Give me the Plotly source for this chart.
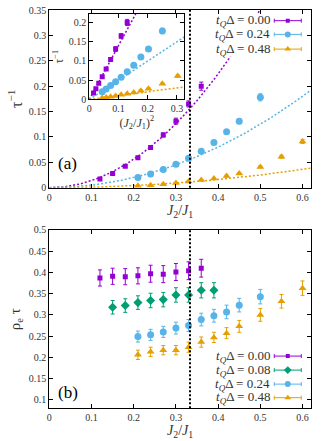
"""
Scattering rate tau^-1 vs J2/J1 (top, with inset vs (J2/J1)^2)
and rho_e*tau vs J2/J1 (bottom), gnuplot-like styling.
"""

import numpy as np
import plotly.graph_objects as go

# =====================================================================
# Data
# =====================================================================

COLORS = {"0.00": "#9400D3", "0.08": "#009E73", "0.24": "#56B4E9", "0.48": "#E69F00"}
SYMBOLS = {"0.00": "square", "0.08": "diamond", "0.24": "circle", "0.48": "triangle-up"}
SIZES = {"0.00": 5, "0.08": 7, "0.24": 7, "0.48": 7}

# --- panel (a): inverse lifetime tau^-1
rate_x_000 = [0.12, 0.15, 0.18, 0.21, 0.24, 0.27, 0.30, 0.33, 0.36]
rate_y_000 = [0.017, 0.028, 0.042, 0.059, 0.079, 0.104, 0.131, 0.165, 0.200]
rate_e_000 = [0.002, 0.002, 0.002, 0.003, 0.003, 0.004, 0.006, 0.006, 0.008]

rate_x_024 = [0.21, 0.24, 0.27, 0.30, 0.33, 0.36, 0.39, 0.42, 0.45, 0.50]
rate_y_024 = [0.020, 0.027, 0.036, 0.046, 0.058, 0.072, 0.089, 0.110, 0.131, 0.178]
rate_e_024 = [0.002, 0.002, 0.002, 0.002, 0.003, 0.003, 0.003, 0.004, 0.005, 0.007]

rate_x_048 = [0.21, 0.24, 0.27, 0.30, 0.33, 0.36, 0.39, 0.42, 0.45, 0.50, 0.55, 0.60]
rate_y_048 = [0.004, 0.005, 0.007, 0.009, 0.012, 0.015, 0.018, 0.023, 0.028, 0.041, 0.061, 0.091]
rate_e_048 = [0.001, 0.001, 0.001, 0.001, 0.001, 0.001, 0.001, 0.002, 0.002, 0.002, 0.003, 0.004]

# quadratic fit coefficients: tau^-1 = c * (J2/J1)^2
fit_coef = {"0.00": 1.40, "0.24": 0.50, "0.48": 0.10}

# --- panel (b): rho_e * tau
rho_x_000 = [0.12, 0.15, 0.18, 0.21, 0.24, 0.27, 0.30, 0.33, 0.36]
rho_y_000 = [0.387, 0.391, 0.390, 0.392, 0.397, 0.396, 0.401, 0.404, 0.410]
rho_e_000 = [0.019, 0.019, 0.019, 0.019, 0.020, 0.020, 0.020, 0.021, 0.021]

rho_x_008 = [0.15, 0.18, 0.21, 0.24, 0.27, 0.30, 0.33, 0.36, 0.39]
rho_y_008 = [0.318, 0.322, 0.329, 0.334, 0.336, 0.347, 0.347, 0.358, 0.358]
rho_e_008 = [0.016, 0.016, 0.016, 0.017, 0.017, 0.017, 0.017, 0.018, 0.018]

rho_x_024 = [0.21, 0.24, 0.27, 0.30, 0.33, 0.36, 0.39, 0.42, 0.45, 0.50]
rho_y_024 = [0.249, 0.253, 0.260, 0.269, 0.275, 0.289, 0.298, 0.307, 0.323, 0.343]
rho_e_024 = [0.013, 0.013, 0.013, 0.014, 0.014, 0.015, 0.015, 0.016, 0.016, 0.017]

rho_x_048 = [0.21, 0.24, 0.27, 0.30, 0.33, 0.36, 0.39, 0.42, 0.45, 0.50, 0.55, 0.60]
rho_y_048 = [0.206, 0.213, 0.217, 0.217, 0.224, 0.236, 0.247, 0.257, 0.273, 0.300, 0.332, 0.363]
rho_e_048 = [0.011, 0.011, 0.011, 0.011, 0.012, 0.012, 0.012, 0.013, 0.014, 0.015, 0.016, 0.017]

J_CRIT = 1 / 3

rate_sets = {
    "0.00": (rate_x_000, rate_y_000, rate_e_000),
    "0.24": (rate_x_024, rate_y_024, rate_e_024),
    "0.48": (rate_x_048, rate_y_048, rate_e_048),
}
rho_sets = {
    "0.00": (rho_x_000, rho_y_000, rho_e_000),
    "0.08": (rho_x_008, rho_y_008, rho_e_008),
    "0.24": (rho_x_024, rho_y_024, rho_e_024),
    "0.48": (rho_x_048, rho_y_048, rho_e_048),
}

FONT = "Liberation Serif, Times New Roman, serif"
TXT = "#333333"


def pts(x, y, e, key, xa, ya):
    return go.Scatter(
        x=x, y=y, xaxis=xa, yaxis=ya, mode="markers",
        marker=dict(symbol=SYMBOLS[key], size=SIZES[key], color=COLORS[key]),
        error_y=dict(type="data", array=e, color=COLORS[key], thickness=1, width=2),
        showlegend=False, hoverinfo="skip",
    )


def legend_sample(key, ly, xa, ya):
    # gnuplot-style key: horizontal error bar with the marker in the middle
    return go.Scatter(
        x=[0.565], y=[ly], xaxis=xa, yaxis=ya, mode="markers",
        marker=dict(symbol=SYMBOLS[key], size=SIZES[key] - 1, color=COLORS[key]),
        error_x=dict(type="data", array=[0.032], color=COLORS[key], thickness=1, width=2),
        showlegend=False, hoverinfo="skip",
    )


fig = go.Figure()

# ---- panel (a): quadratic fits vs J2/J1
xf = np.linspace(0, 0.62, 200)
for key in fit_coef:
    fig.add_trace(go.Scatter(
        x=xf, y=fit_coef[key] * xf**2, xaxis="x", yaxis="y", mode="lines",
        line=dict(color=COLORS[key], width=1.5, dash="2px,2px"),
        showlegend=False, hoverinfo="skip",
    ))
for key, (x, y, e) in rate_sets.items():
    fig.add_trace(pts(x, y, e, key, "x", "y"))

# opaque key box (hides the purple fit behind the key) + samples
fig.add_trace(go.Scatter(
    x=[0.369, 0.612, 0.612, 0.369, 0.369], y=[0.342, 0.342, 0.258, 0.258, 0.342],
    xaxis="x", yaxis="y", mode="lines", fill="toself", fillcolor="white",
    line=dict(width=0), showlegend=False, hoverinfo="skip",
))
leg_a_y = [0.329, 0.302, 0.273]
for key, ly in zip(rate_sets, leg_a_y):
    fig.add_trace(legend_sample(key, ly, "x", "y"))

# ---- inset: same data vs (J2/J1)^2, fits become straight lines
uf = np.linspace(0, 0.33, 50)
for key in fit_coef:
    fig.add_trace(go.Scatter(
        x=uf, y=fit_coef[key] * uf, xaxis="x2", yaxis="y2", mode="lines",
        line=dict(color=COLORS[key], width=1.5, dash="2px,2px"),
        showlegend=False, hoverinfo="skip",
    ))
for key, (x, y, e) in rate_sets.items():
    fig.add_trace(pts([v**2 for v in x], y, e, key, "x2", "y2"))

# ---- panel (b)
for key, (x, y, e) in rho_sets.items():
    fig.add_trace(pts(x, y, e, key, "x3", "y3"))
leg_b_y = [0.203, 0.170, 0.137, 0.105]
for key, ly in zip(rho_sets, leg_b_y):
    fig.add_trace(legend_sample(key, ly, "x3", "y3"))

# =====================================================================
# Layout
# =====================================================================

def ax(domain, rng, dtick, anchor, title=None, tsize=14, standoff=None):
    d = dict(
        domain=domain, range=rng, dtick=dtick, tick0=0, anchor=anchor,
        showgrid=False, zeroline=False, showline=True, linecolor="black",
        linewidth=1, mirror="ticks", ticks="inside", ticklen=4, tickcolor="black",
        tickfont=dict(family=FONT, size=10, color=TXT), automargin=False,
    )
    if title:
        d["title"] = dict(text=title, font=dict(family=FONT, size=tsize, color=TXT))
        if standoff is not None:
            d["title"]["standoff"] = standoff
    return d


J_TITLE = "<i>J</i><sub>2</sub>/<i>J</i><sub>1</sub>"
X_MAIN = [0.1485, 0.9367]

fig.update_layout(
    width=332, height=441,
    margin=dict(l=0, r=0, t=0, b=0),
    paper_bgcolor="white", plot_bgcolor="white",
    xaxis=ax(X_MAIN, [0, 0.62], 0.1, "y", J_TITLE, standoff=0),
    yaxis=ax([0.5744, 0.9773], [0, 0.35], 0.05, "x", "τ<sup>−1</sup>",
             tsize=16, standoff=2),
    xaxis2=ax([0.269, 0.5551], [0, 0.325], 0.1, "y2",
              "(" + J_TITLE + ")<sup>2</sup>", tsize=12, standoff=0),
    yaxis2=ax([0.7744, 0.9683], [0, 0.222], 0.05, "x2", "τ<sup>−1</sup>",
              tsize=12, standoff=2),
    xaxis3=ax(X_MAIN, [0, 0.62], 0.1, "y3", J_TITLE, standoff=0),
    yaxis3=ax([0.0741, 0.4785], [0.08, 0.5], 0.05, "x3", "ρ<sub>e</sub> τ",
              tsize=15, standoff=4),
)

# critical coupling J2/J1 = 1/3
for xa, ya in (("x", "y"), ("x3", "y3")):
    fig.add_shape(
        type="line", xref=xa, yref=f"{ya} domain", x0=J_CRIT, x1=J_CRIT, y0=0, y1=1,
        line=dict(color="black", width=2, dash="2px,2px"), layer="above",
    )

# key texts
tq = "<i>t</i><sub><i>Q</i></sub>Δ = "
for key, ly in zip(rate_sets, leg_a_y):
    fig.add_annotation(x=0.527, y=ly, xref="x", yref="y", text=tq + key,
                       showarrow=False, xanchor="right", yanchor="middle",
                       font=dict(family=FONT, size=13, color=TXT))
for key, ly in zip(rho_sets, leg_b_y):
    fig.add_annotation(x=0.527, y=ly, xref="x3", yref="y3", text=tq + key,
                       showarrow=False, xanchor="right", yanchor="middle",
                       font=dict(family=FONT, size=13, color=TXT))

# panel labels
fig.add_annotation(x=0.044, y=0.047, xref="x", yref="y", text="(a)", showarrow=False,
                   font=dict(family=FONT, size=17, color="black"))
fig.add_annotation(x=0.044, y=0.117, xref="x3", yref="y3", text="(b)", showarrow=False,
                   font=dict(family=FONT, size=17, color="black"))

# drop the default page margin so the figure sits at the window's corner
fig.write_html(
    "out.html",
    config={"displayModeBar": False},
    post_script="document.body.style.margin='0';",
)
